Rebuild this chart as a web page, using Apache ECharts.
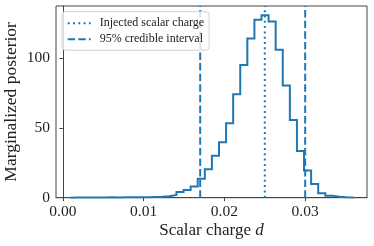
<!DOCTYPE html>
<html>
<head>
<meta charset="utf-8">
<style>html,body{margin:0;padding:0;background:#fff;}#c{width:374px;height:246px;}</style>
<script src="https://cdn.jsdelivr.net/npm/echarts@6/dist/echarts.min.js"></script>
</head>
<body>
<div id="c"></div>
<script>
// Histogram of the scalar charge posterior (40 bins)
const binMin = 0.0009;
const binMax = 0.0360;
const density = [
  0.1, 0.2, 0.1, 0.2, 0.2, 0.3, 0.2, 0.3, 0.4, 0.3, 0.4, 0.5, 0.6,
  1.0, 2.0, 4.0, 5.5, 8.0, 13.6, 20.4, 30.1, 39.7, 53.3, 74.1, 95.1,
  114.0, 127.4, 130.6, 126.2, 105.9, 80.3, 55.7, 33.5, 19.4, 9.8,
  3.1, 1.4, 0.6, 0.3, 0.2
];
const injectedCharge = [0.025];
const credibleInterval = [0.0170, 0.0300];
const xTicks = [0, 0.01, 0.02, 0.03];
const yTicks = [0, 50, 100];
const xRange = [-0.000855, 0.037655];
const yRange = [0, 137.3];

const nBins = density.length;
const w = (binMax - binMin) / nBins;
const hist = [[binMin, 0]];
for (let k = 0; k < nBins; k++) {
  hist.push([binMin + k * w, density[k]]);
  hist.push([binMin + (k + 1) * w, density[k]]);
}
hist.push([binMax, 0]);

const C0 = '#1f77b4';
const font = 'Liberation Serif';
const series = [{
  type: 'line', name: 'hist', data: hist, symbol: 'none',
  lineStyle: { color: C0, width: 2, join: 'miter' }, silent: true, z: 2
}, {
  type: 'line', name: 'Injected scalar charge',
  data: [[injectedCharge[0], yRange[0]], [injectedCharge[0], yRange[1]]],
  symbol: 'none', itemStyle: { color: C0 },
  lineStyle: { color: C0, width: 2, type: [2, 3.3] }, z: 3
}];
credibleInterval.forEach(v => {
  series.push({
    type: 'line', name: '95% credible interval',
    data: [[v, yRange[0]], [v, yRange[1]]],
    symbol: 'none', itemStyle: { color: C0 },
    lineStyle: { color: C0, width: 2, type: [7.4, 3.2] }, z: 3
  });
});

const chart = echarts.init(document.getElementById('c'), null, { renderer: 'canvas' });
chart.setOption({
  animation: false,
  backgroundColor: '#fff',
  grid: { left: 56, right: 7, top: 6, bottom: 48.3, show: true, borderColor: '#444', borderWidth: 1,
    containLabel: false, outerBoundsMode: 'none' },
  legend: {
    data: ['Injected scalar charge', '95% credible interval'],
    orient: 'vertical', left: 62, top: 11.7,
    itemWidth: 23, itemHeight: 11, itemGap: 4,
    padding: [5.5, 5, 5, 4.7],
    backgroundColor: 'rgba(255,255,255,0.8)',
    borderColor: '#d0d0d0', borderWidth: 1, borderRadius: 3,
    itemStyle: { color: 'rgba(0,0,0,0)', borderWidth: 0, opacity: 0 },
    textStyle: { fontFamily: font, fontSize: 12, color: '#222', padding: [0, 0, 0, 4] }
  },
  xAxis: {
    type: 'value', min: xRange[0], max: xRange[1],
    name: '{a|Scalar charge }{b|d}', nameLocation: 'middle', nameGap: 24, nameMoveOverlap: false,
    nameTextStyle: { rich: {
      a: { fontFamily: font, fontSize: 17, color: '#222' },
      b: { fontFamily: font, fontSize: 17, color: '#222', fontStyle: 'italic' } } },
    axisLine: { show: true, lineStyle: { color: '#444', width: 1 } },
    axisTick: { show: true, inside: false, length: 3.5, customValues: xTicks, lineStyle: { color: '#444' } },
    axisLabel: { customValues: xTicks, margin: 6, fontFamily: font, fontSize: 15.5, color: '#222',
      formatter: v => v.toFixed(2) },
    splitLine: { show: false }
  },
  yAxis: {
    type: 'value', min: yRange[0], max: yRange[1],
    name: 'Marginalized posterior', nameLocation: 'middle', nameGap: 36, nameMoveOverlap: false,
    nameTextStyle: { fontFamily: font, fontSize: 17.5, color: '#222' },
    axisLine: { show: true, lineStyle: { color: '#444', width: 1 } },
    axisTick: { show: true, inside: false, length: 3.5, customValues: yTicks, lineStyle: { color: '#444' } },
    axisLabel: { customValues: yTicks, margin: 6, fontFamily: font, fontSize: 15.5, color: '#222' },
    splitLine: { show: false }
  },
  series: series
});
</script>
</body>
</html>
